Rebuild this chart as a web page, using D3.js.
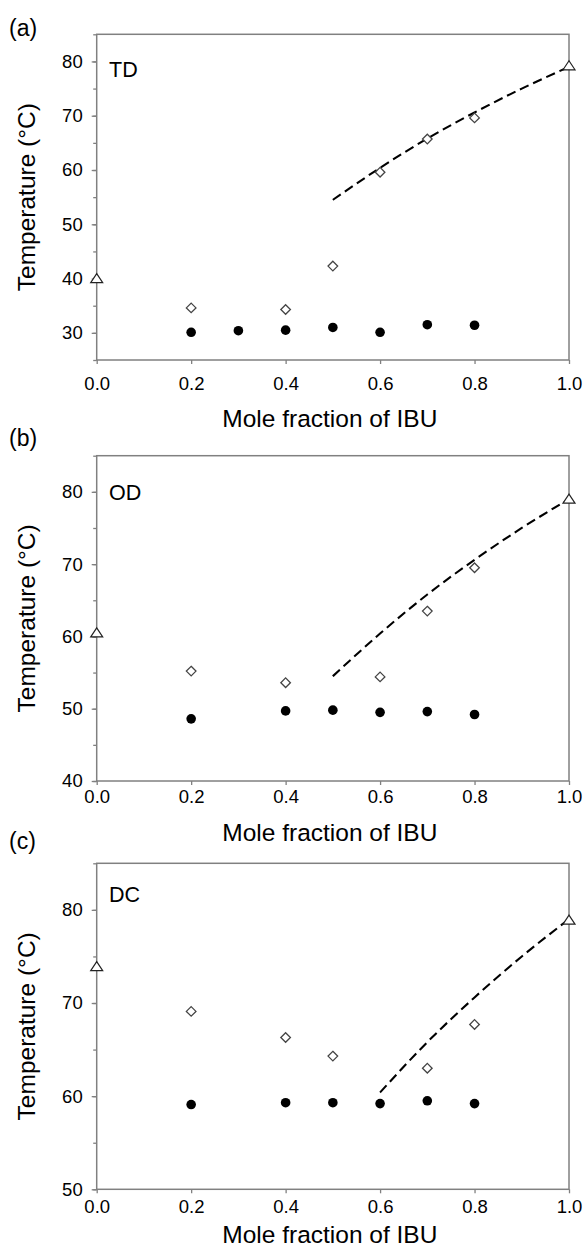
<!DOCTYPE html>
<html>
<head>
<meta charset="utf-8">
<script src="https://cdn.jsdelivr.net/npm/d3@7"></script>
<style>
  html, body { margin: 0; padding: 0; background: #fff; }
  svg { display: block; font-family: "Liberation Sans", Arial, sans-serif; }
</style>
</head>
<body>
<svg id="chart" width="584" height="1251"></svg>
<script>
// ---------- data ----------
const xTicks = [0.0, 0.2, 0.4, 0.6, 0.8, 1.0];
const pureX = [0.0, 1.0];
const idealX = [0.5, 0.6, 0.7, 0.8, 0.9, 1.0];
const idealT = [54.5, 60.4, 65.8, 70.6, 75.0, 79.0];

// TD
const tdSolidX = [0.2, 0.3, 0.4, 0.5, 0.6, 0.7, 0.8];
const tdSolidT = [30.1, 30.4, 30.5, 31.0, 30.1, 31.5, 31.4];
const tdLiqX = [0.2, 0.4, 0.5, 0.6, 0.7, 0.8];
const tdLiqT = [34.6, 34.3, 42.3, 59.6, 65.7, 69.6];
const tdPureT = [40.0, 79.2];
const tdYTicks = [30, 40, 50, 60, 70, 80];

// OD
const odSolidX = [0.2, 0.4, 0.5, 0.6, 0.7, 0.8];
const odSolidT = [48.6, 49.7, 49.8, 49.5, 49.6, 49.2];
const odLiqX = [0.2, 0.4, 0.6, 0.7, 0.8];
const odLiqT = [55.2, 53.6, 54.4, 63.5, 69.5];
const odPureT = [60.5, 79.0];
const odYTicks = [40, 50, 60, 70, 80];

// DC
const dcSolidX = [0.2, 0.4, 0.5, 0.6, 0.7, 0.8];
const dcSolidT = [59.1, 59.3, 59.3, 59.2, 59.5, 59.2];
const dcLiqX = [0.2, 0.4, 0.5, 0.7, 0.8];
const dcLiqT = [69.1, 66.3, 64.3, 63.0, 67.7];
const dcPureT = [73.9, 78.9];
const dcYTicks = [50, 60, 70, 80];
const dcIdealStart = 0.6;

// ---------- layout ----------
const panels = [
  { letter: "(a)", name: "TD", yDomain: [25, 85], yTicks: tdYTicks,
    solidX: tdSolidX, solidT: tdSolidT, liqX: tdLiqX, liqT: tdLiqT, pureT: tdPureT, idealFrom: 0.5,
    top: 34.3, bottom: 360, xPad: 12.5, xTitleY: 426.5, letterY: 36, nameY: 77 },
  { letter: "(b)", name: "OD", yDomain: [40, 85], yTicks: odYTicks,
    solidX: odSolidX, solidT: odSolidT, liqX: odLiqX, liqT: odLiqT, pureT: odPureT, idealFrom: 0.5,
    top: 455.7, bottom: 781, xPad: 5, xTitleY: 840.5, letterY: 446, nameY: 500 },
  { letter: "(c)", name: "DC", yDomain: [50, 85], yTicks: dcYTicks,
    solidX: dcSolidX, solidT: dcSolidT, liqX: dcLiqX, liqT: dcLiqT, pureT: dcPureT, idealFrom: dcIdealStart,
    top: 863.3, bottom: 1189.3, xPad: 7, xTitleY: 1243, letterY: 849, nameY: 902 }
];

const left = 96.7, right = 569;
const axisColor = "#808080";
const svg = d3.select("#chart");

panels.forEach(p => {
  const x = d3.scaleLinear().domain([0, 1]).range([left, right]);
  const y = d3.scaleLinear().domain(p.yDomain).range([p.bottom, p.top]);
  const g = svg.append("g");

  // frame
  g.append("rect")
    .attr("x", left).attr("y", p.top)
    .attr("width", right - left).attr("height", p.bottom - p.top)
    .attr("fill", "none").attr("stroke", axisColor).attr("stroke-width", 1.5);

  // minor y ticks
  const minor = d3.range(p.yDomain[0], p.yDomain[1] + 0.01, 5);
  g.append("g").attr("transform", `translate(${left},0)`)
    .call(d3.axisLeft(y).tickValues(minor).tickSize(3.5).tickSizeOuter(0).tickFormat(""))
    .call(a => a.select(".domain").remove())
    .call(a => a.selectAll("line").attr("stroke", axisColor).attr("stroke-width", 1.3));

  // major y ticks
  g.append("g").attr("transform", `translate(${left},0)`)
    .call(d3.axisLeft(y).tickValues(p.yTicks).tickSize(5).tickPadding(9).tickSizeOuter(0).tickFormat(d3.format("d")))
    .call(a => a.select(".domain").remove())
    .call(a => a.selectAll("line").attr("stroke", axisColor).attr("stroke-width", 1.3))
    .call(a => a.selectAll("text").attr("fill", "#000").style("font-size", "18.5px").style("font-family", "Liberation Sans, Arial, sans-serif"));

  // x ticks
  g.append("g").attr("transform", `translate(0,${p.bottom})`)
    .call(d3.axisBottom(x).tickValues(xTicks).tickSize(4).tickPadding(p.xPad).tickSizeOuter(0).tickFormat(d3.format(".1f")))
    .call(a => a.select(".domain").remove())
    .call(a => a.selectAll("line").attr("stroke", axisColor).attr("stroke-width", 1.3))
    .call(a => a.selectAll("text").attr("fill", "#000").style("font-size", "18.5px").style("font-family", "Liberation Sans, Arial, sans-serif"));

  // axis titles
  g.append("text")
    .attr("transform", `translate(35,${(p.top + p.bottom) / 2}) rotate(-90)`)
    .attr("text-anchor", "middle").attr("fill", "#000")
    .style("font-size", "24.5px")
    .text("Temperature (°C)");
  g.append("text")
    .attr("x", (left + right) / 2 - 3).attr("y", p.xTitleY)
    .attr("text-anchor", "middle").attr("fill", "#000")
    .style("font-size", "24.5px")
    .text("Mole fraction of IBU");

  // panel letter and name
  g.append("text").attr("x", 9).attr("y", p.letterY).attr("fill", "#000")
    .style("font-size", "23px").text(p.letter);
  g.append("text").attr("x", 109).attr("y", p.nameY).attr("fill", "#000")
    .style("font-size", "21.5px").text(p.name);

  // ideal (dashed) curve
  const idealPts = idealX.map((v, i) => [v, idealT[i]]).filter(d => d[0] >= p.idealFrom - 1e-9);
  g.append("path")
    .datum(idealPts)
    .attr("fill", "none").attr("stroke", "#000").attr("stroke-width", 2.1)
    .attr("stroke-dasharray", "9.5,5")
    .attr("d", d3.line().x(d => x(d[0])).y(d => y(d[1])).curve(d3.curveMonotoneX));

  // solidus (filled circles)
  g.selectAll(".sol").data(p.solidX.map((v, i) => [v, p.solidT[i]])).enter()
    .append("circle")
    .attr("cx", d => x(d[0])).attr("cy", d => y(d[1])).attr("r", 4.8)
    .attr("fill", "#000");

  // liquidus (open diamonds)
  const dia = 4.8;
  g.selectAll(".liq").data(p.liqX.map((v, i) => [v, p.liqT[i]])).enter()
    .append("path")
    .attr("transform", d => `translate(${x(d[0])},${y(d[1])})`)
    .attr("d", `M0,${-dia}L${dia},0L0,${dia}L${-dia},0Z`)
    .attr("fill", "#fff").attr("stroke", "#444").attr("stroke-width", 1.3);

  // pure components (open triangles)
  g.selectAll(".pure").data(pureX.map((v, i) => [v, p.pureT[i]])).enter()
    .append("path")
    .attr("transform", d => `translate(${x(d[0])},${y(d[1])})`)
    .attr("d", "M0,-5L6,4L-6,4Z")
    .attr("fill", "#fff").attr("stroke", "#222").attr("stroke-width", 1.2);
});
</script>
</body>
</html>
